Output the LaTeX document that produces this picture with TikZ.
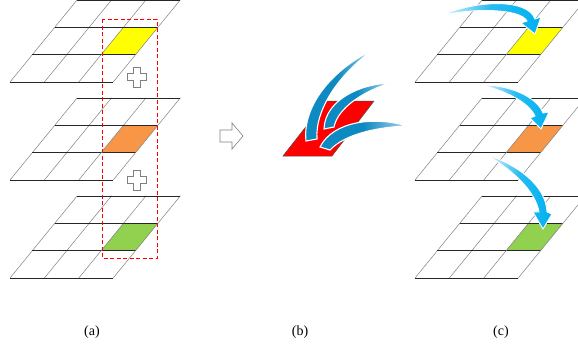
\documentclass[tikz,border=0pt]{standalone}
\usepackage{fontspec}
\setmainfont{Liberation Serif}
\usepackage{xcolor}
\usetikzlibrary{positioning,arrows.meta}
\definecolor{cellY}{RGB}{255,255,0}
\definecolor{cellO}{RGB}{247,150,70}
\definecolor{cellG}{RGB}{146,208,80}
\definecolor{swoosh}{RGB}{0,176,240}
\definecolor{swooshDk}{RGB}{14,138,194}

\begin{document}
\begin{tikzpicture}[x=1pt, y=-1pt,
  rowline/.style={draw=black!85, line width=0.6pt},
  colline/.style={draw=gray, line width=0.5pt},
  sel/.style={draw=red, line width=0.9pt, dash pattern=on 4pt off 2.5pt},
  hollow/.style={draw=gray, line width=0.6pt, fill=white},
  swl/.style={draw=white, line width=0.9pt, left color=swoosh!10, right color=swoosh, middle color=swoosh!85},
  swd/.style={draw=white, line width=1.1pt, left color=swooshDk, right color=swooshDk!35, middle color=swooshDk},
  lab/.style={font=\fontsize{14}{14}\selectfont},
  pics/plusmark/.style={code={
    \draw[hollow] (-3.5,-10) -- (3.5,-10) -- (3.5,-3.5) -- (9.5,-3.5) -- (9.5,3.5) -- (3.5,3.5)
      -- (3.5,10) -- (-3.5,10) -- (-3.5,3.5) -- (-9.5,3.5) -- (-9.5,-3.5) -- (-3.5,-3.5) -- cycle;}}]
\useasboundingbox (0,0) rectangle (578,354);

% the 3x3 boards, left column and right column
\foreach \gx/\gy/\fillc in {10/82/cellY, 10/180/cellO, 10/278/cellG, 415/82/cellY, 415/180/cellO, 415/278/cellG} {
  \begin{scope}[shift={(\gx,\gy)}, x={(34.4pt,0pt)}, y={(22.4pt,27.4pt)}]
    \fill[\fillc] (2,1) -- (3,1) -- (3,2) -- (2,2) -- cycle;
    \foreach \k in {0,...,3} {
      \draw[colline] (\k,0) -- (\k,3);
      \draw[rowline] (0,\k) -- (3,\k);
    }
  \end{scope}
}

% selected column and the sums
\draw[sel] (102,19) rectangle (157,258);
\pic at (137,77) {plusmark};
\pic at (137,180) {plusmark};

% step arrow
\draw[hollow] (220,130) -- (232,130) -- (232,123) -- (243,136) -- (232,149) -- (232,142) -- (220,142) -- cycle;

% merged cell with incoming flows
\fill[red, draw=black!70, line width=0.5pt] (283,156) -- (332,156) -- (374,101) -- (326,101) -- cycle;
\shadedraw[swd] (373,50) .. controls (335,68) and (302,104) .. (306,141) -- (317,139)
  .. controls (315,110) and (338,75) .. cycle;
\shadedraw[swd] (390,83) .. controls (360,84) and (325,100) .. (324,129) -- (334,127)
  .. controls (338,108) and (362,92) .. cycle;
\shadedraw[swd] (407,126) .. controls (375,116) and (333,121) .. (320,147) -- (330,150)
  .. controls (346,133) and (380,127) .. cycle;

% flows back into each board
\shadedraw[swl] (440,16) .. controls (472,1) and (527,-3) .. (535,19) -- (541,17) -- (535,34)
  -- (521,23) -- (527,21) .. controls (520,8) and (470,8) .. cycle;
\shadedraw[swl] (482,85) .. controls (510,85) and (537,97) .. (543,113) -- (549,112) -- (541,129)
  -- (530,118) -- (535,116) .. controls (528,102) and (508,92) .. cycle;
\shadedraw[swl] (487,155) .. controls (516,164) and (546,185) .. (547,212) -- (552,214) -- (543,229)
  -- (533,212) -- (539,212) .. controls (535,190) and (512,170) .. cycle;

\node[lab] (la) at (92,332) {(a)};
\node[lab] (lb) at (300,332) {(b)};
\node[lab] (lc) at (501,332) {(c)};
\end{tikzpicture}
\end{document}
